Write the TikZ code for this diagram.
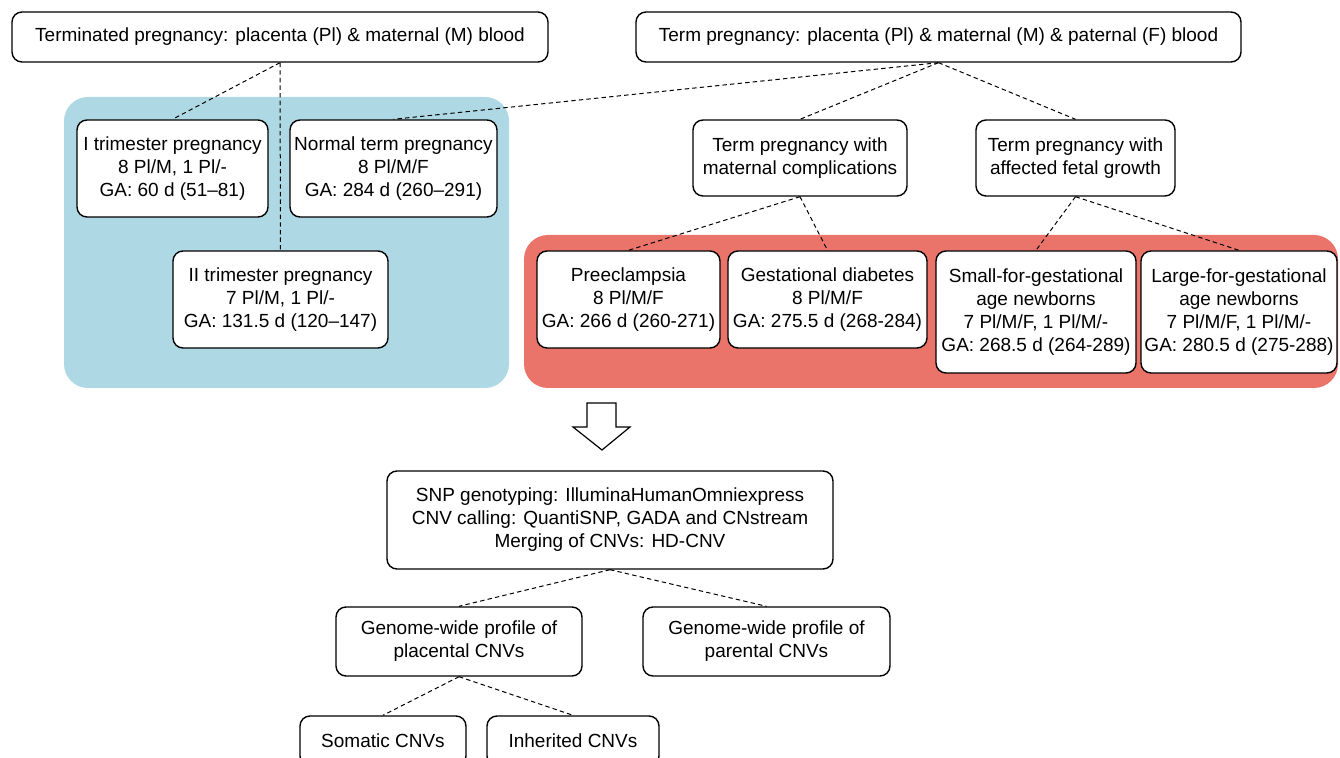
\documentclass[tikz,border=0pt]{standalone}
\usepackage{fontspec}
\setmainfont{Liberation Sans}
\definecolor{bluebg}{RGB}{174,217,228}
\definecolor{redbg}{RGB}{234,116,106}
\begin{document}
\begin{tikzpicture}[x=0.5pt,y=-0.5pt,
  box/.style={draw, rounded corners=5pt, line width=0.7pt, fill=white, align=center,
    font=\fontsize{9.5}{11.5}\selectfont, inner sep=0pt},
  link/.style={dash pattern=on 2.2pt off 1.6pt, line width=0.5pt},
  region/.style={rounded corners=12pt}]
\clip (0,0) rectangle (1340,758);
\useasboundingbox (0,0) rectangle (1340,758);
% background regions
\fill[bluebg, region] (64,97) rectangle (509,388);
\fill[redbg, region] (524,235) rectangle (1338,388);
% top boxes
\node[box, minimum width=268pt, minimum height=25pt] (t1) at (280,37) {Terminated pregnancy: placenta (Pl) \& maternal (M) blood};
\node[box, minimum width=302.5pt, minimum height=25pt] (t2) at (938.5,37) {Term pregnancy: placenta (Pl) \& maternal (M) \& paternal (F) blood};
% blue region boxes
\node[box, minimum width=95.5pt, minimum height=48.5pt] (tri1) at (172.5,168.5) {I trimester pregnancy\\8 Pl/M, 1 Pl/-\\GA: 60 d (51--81)};
\node[box, minimum width=103.5pt, minimum height=48.5pt] (norm) at (393.5,168.5) {Normal term pregnancy\\8 Pl/M/F\\GA: 284 d (260--291)};
\node[box, minimum width=107.5pt, minimum height=48.5pt] (tri2) at (280.5,299.5) {II trimester pregnancy\\7 Pl/M, 1 Pl/-\\GA: 131.5 d (120--147)};
% middle right boxes
\node[box, minimum width=107pt, minimum height=38pt] (mat) at (800,158) {Term pregnancy with\\maternal complications};
\node[box, minimum width=99.5pt, minimum height=38pt] (fet) at (1075.5,158) {Term pregnancy with\\affected fetal growth};
% red region boxes
\node[box, minimum width=91.5pt, minimum height=48.5pt] (pre) at (628.5,299.5) {Preeclampsia\\8 Pl/M/F\\GA: 266 d (260-271)};
\node[box, minimum width=99.5pt, minimum height=48.5pt] (gest) at (827.5,299.5) {Gestational diabetes\\8 Pl/M/F\\GA: 275.5 d (268-284)};
\node[box, minimum width=100pt, minimum height=61pt] (sga) at (1036,312) {Small-for-gestational\\age newborns\\7 Pl/M/F, 1 Pl/M/-\\GA: 268.5 d (264-289)};
\node[box, minimum width=98pt, minimum height=61pt] (lga) at (1239,312) {Large-for-gestational\\age newborns\\7 Pl/M/F, 1 Pl/M/-\\GA: 280.5 d (275-288)};
% hollow arrow
\draw[line width=0.6pt, fill=white] (587,403) -- (616,403) -- (616,427) -- (630,427) -- (602,450) -- (573,427) -- (587,427) -- cycle;
% lower boxes
\node[box, minimum width=223pt, minimum height=49pt] (snp) at (610,520) {SNP genotyping: IlluminaHumanOmniexpress\\CNV calling: QuantiSNP, GADA and CNstream\\Merging of CNVs: HD-CNV};
\node[box, minimum width=123pt, minimum height=34.5pt] (plac) at (459,641.5) {Genome-wide profile of\\placental CNVs};
\node[box, minimum width=123.5pt, minimum height=34.5pt] (par) at (766.5,641.5) {Genome-wide profile of\\parental CNVs};
\node[box, minimum width=83pt, minimum height=25pt] (som) at (383,741) {Somatic CNVs};
\node[box, minimum width=86pt, minimum height=25pt] (inh) at (573,741) {Inherited CNVs};
% connectors
\draw[link] (t1.south) -- (tri1.north);
\draw[link] (t1.south) -- (tri2.north);
\draw[link] (t2.south) -- (norm.north);
\draw[link] (t2.south) -- (mat.north);
\draw[link] (t2.south) -- (fet.north);
\draw[link] (mat.south) -- (pre.north);
\draw[link] (mat.south) -- (gest.north);
\draw[link] (fet.south) -- (sga.north);
\draw[link] (fet.south) -- (lga.north);
\draw[link] (snp.south) -- (plac.north);
\draw[link] (snp.south) -- (par.north);
\draw[link] (plac.south) -- (som.north);
\draw[link] (plac.south) -- (inh.north);
\end{tikzpicture}
\end{document}
